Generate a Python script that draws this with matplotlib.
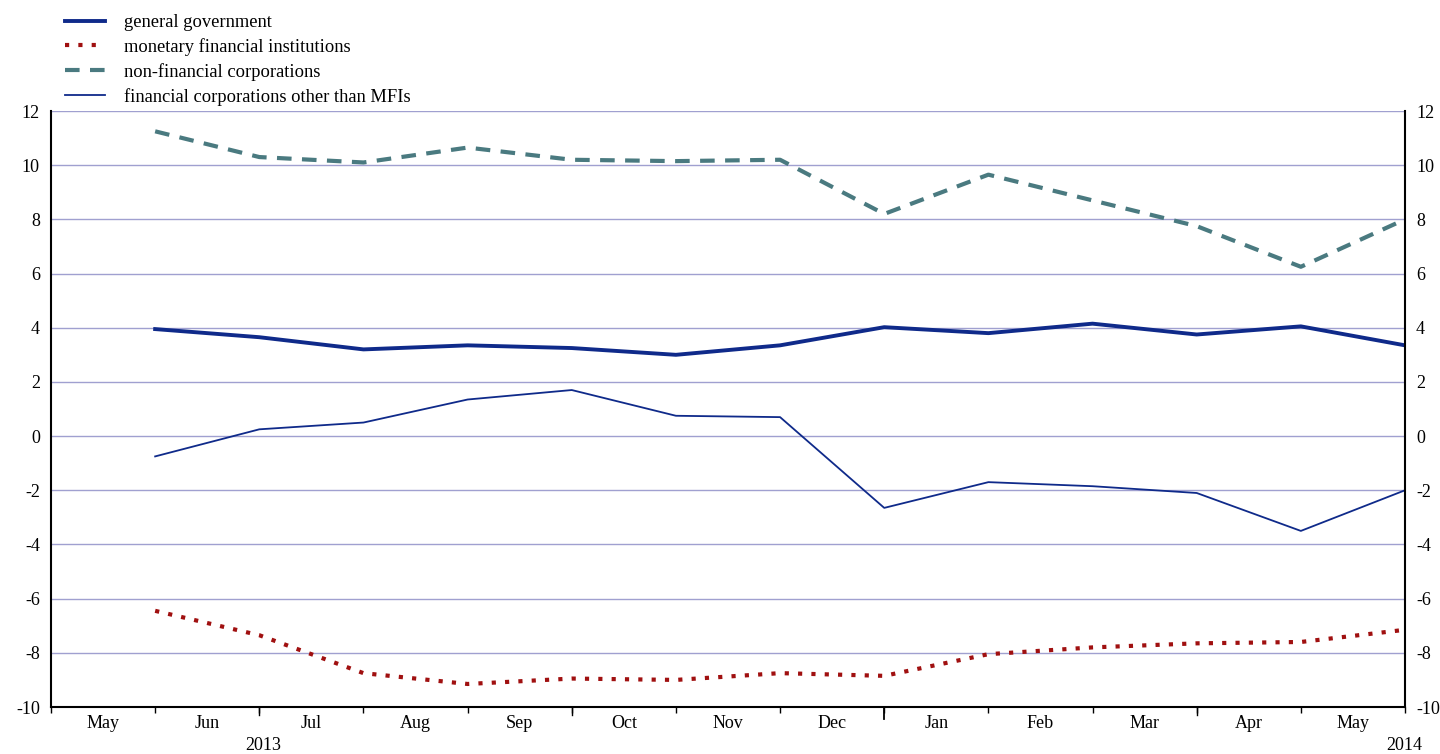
import numpy as np
import matplotlib
matplotlib.use("Agg")
import matplotlib.pyplot as plt

plt.rcParams['font.family'] = ['Liberation Serif', 'DejaVu Serif']
plt.rcParams['axes.unicode_minus'] = False

months = ['May', 'Jun', 'Jul', 'Aug', 'Sep', 'Oct', 'Nov', 'Dec',
          'Jan', 'Feb', 'Mar', 'Apr', 'May']
gen_gov = [3.95, 3.65, 3.2, 3.35, 3.25, 3.0, 3.35, 4.02, 3.8, 4.15, 3.75, 4.05, 3.35]
mfi = [-6.45, -7.35, -8.75, -9.15, -8.95, -9.0, -8.75, -8.85, -8.05, -7.8, -7.65, -7.6, -7.15]
nfc = [11.25, 10.3, 10.1, 10.65, 10.2, 10.15, 10.2, 8.2, 9.65, 8.7, 7.75, 6.25, 8.0]
ofi = [-0.75, 0.25, 0.5, 1.35, 1.7, 0.75, 0.7, -2.65, -1.7, -1.85, -2.1, -3.5, -2.0]
labels = ['general government', 'monetary financial institutions',
          'non-financial corporations', 'financial corporations other than MFIs']

x = np.arange(1, len(gen_gov) + 1)

fig = plt.figure(figsize=(14.4, 7.54), dpi=100)
ax = fig.add_axes([51/1440, 47/754, (1405-51)/1440, (707-111)/754])

ax.set_xlim(0, 13)
ax.set_ylim(-10, 12)
ax.set_yticks(np.arange(-10, 13, 2))
ax.grid(axis='y', color='#a0a0d0', linewidth=1)
ax.set_axisbelow(True)

l1, = ax.plot(x, gen_gov, color='#0f2a8a', lw=2.8)
l2, = ax.plot(x, mfi, color='#a01010', lw=3, linestyle=(0, (1, 2.2)))
l3, = ax.plot(x, nfc, color='#4a7a80', lw=3, linestyle=(0, (3.5, 2.5)))
l4, = ax.plot(x, ofi, color='#0f2a8a', lw=1.3)

ax.spines['top'].set_visible(False)
for s in ['left', 'right', 'bottom']:
    ax.spines[s].set_linewidth(1.5)

# month boundary ticks, month labels in between
ax.set_xticks(np.arange(0, 14))
ax.set_xticklabels([])
ax.tick_params(axis='x', which='major', length=4, width=1, direction='out')
ax.set_xticks(np.arange(0.5, 13, 1), minor=True)
ax.set_xticklabels(months, minor=True)
ax.tick_params(axis='x', which='minor', length=0, pad=6, labelsize=13)
for xt in [2, 5, 11]:
    ax.plot([xt, xt], [-10, -10.3], color='black', lw=1, clip_on=False)
ax.plot([8, 8], [-10, -10.45], color='black', lw=1.3, clip_on=False)

ax.tick_params(axis='y', which='major', length=0, labelsize=13, pad=8,
               left=True, right=True, labelleft=True, labelright=True)

fig.text(263/1440, 1 - 746/754, '2013', ha='center', va='center', fontsize=13)
fig.text(1422/1440, 1 - 746/754, '2014', ha='right', va='center', fontsize=13)

fig.legend([l1, l2, l3, l4], labels, loc='upper left',
           bbox_to_anchor=(65/1440, 1 - 14/754), frameon=False, fontsize=13.3,
           handlelength=2.15, handletextpad=1.05, labelspacing=0.38,
           borderaxespad=0, borderpad=0)

fig.savefig('out.png', dpi=100)
